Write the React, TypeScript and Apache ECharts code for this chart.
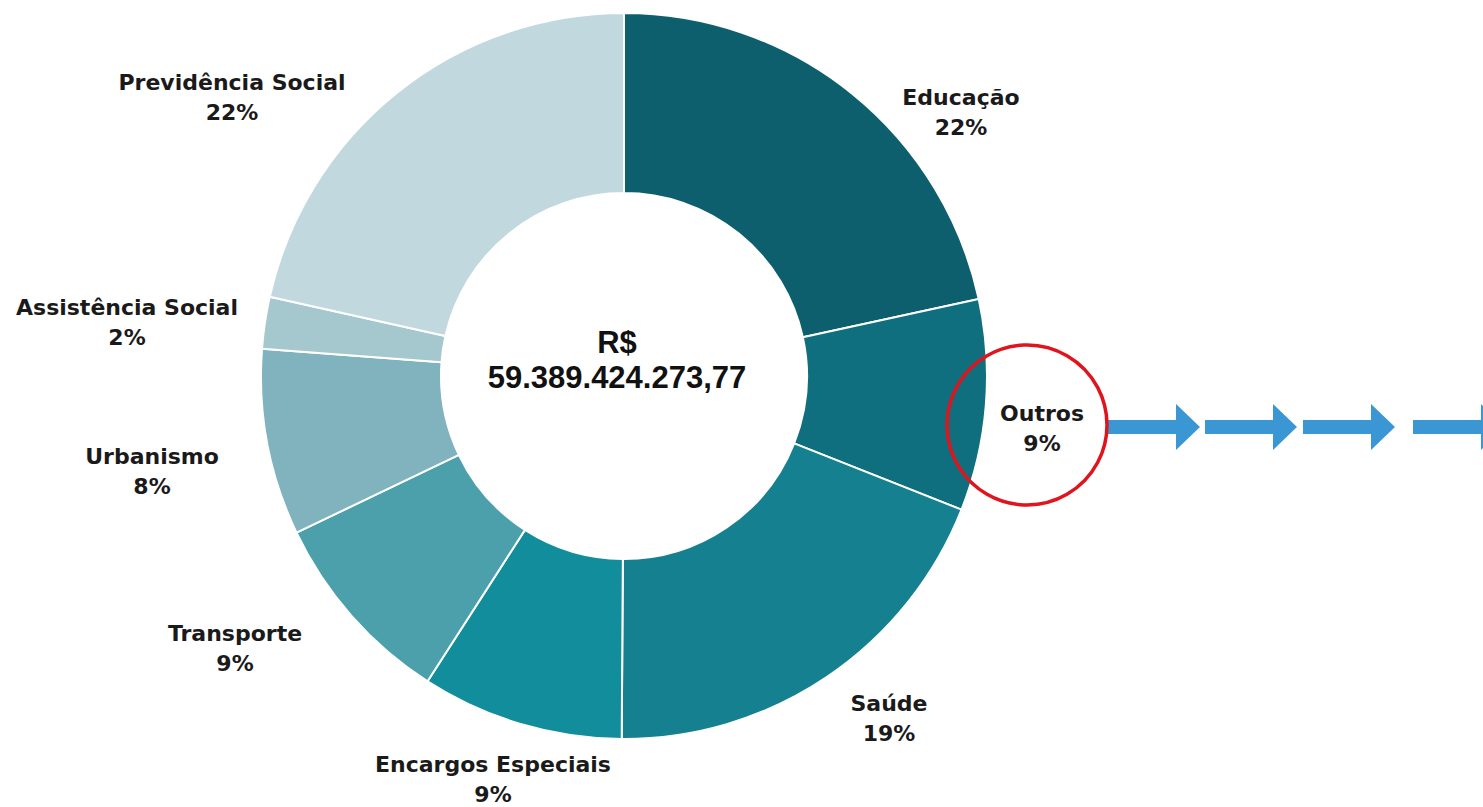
import React, { useEffect, useRef } from "react";
import * as echarts from "echarts";

const categories = [
  "Educação",
  "Outros",
  "Saúde",
  "Encargos Especiais",
  "Transporte",
  "Urbanismo",
  "Assistência Social",
  "Previdência Social",
];
// share of total spending (%)
const shares = [21.6, 9.4, 19.1, 9.0, 8.8, 8.3, 2.3, 21.5];
const sliceColors = [
  "#0D5F6E",
  "#0F6F7F",
  "#15808F",
  "#118D9C",
  "#4BA0AC",
  "#80B3BD",
  "#A5C8CF",
  "#C1D9DE",
];
const totalLines = ["R$", "59.389.424.273,77"];

// layout constants (not data)
const CENTER: [number, number] = [624, 376];
const R_IN = 183;
const R_OUT = 363;
const labelOffsets: [number, number][] = [
  [337, -264],
  [418, 52],
  [265, 342],
  [-131, 403],
  [-389, 272],
  [-472, 95],
  [-497, -54],
  [-392, -279],
];
const arrowStarts = [1108, 1205, 1303, 1413];

export default function App() {
  const ref = useRef<HTMLDivElement>(null);
  useEffect(() => {
    if (!ref.current) return;
    const chart = echarts.init(ref.current, undefined, { renderer: "svg" });
    const arrowY = 427;
    const arrows = arrowStarts.map((x0) => ({
      type: "polygon",
      z: 50,
      shape: {
        points: [
          [x0, arrowY - 7],
          [x0 + 68, arrowY - 7],
          [x0 + 68, arrowY - 23],
          [x0 + 92, arrowY],
          [x0 + 68, arrowY + 23],
          [x0 + 68, arrowY + 7],
          [x0, arrowY + 7],
        ],
      },
      style: { fill: "#3B97D3" },
    }));
    chart.setOption({
      animation: false,
      backgroundColor: "#ffffff",
      series: [
        {
          type: "pie",
          center: CENTER,
          radius: [R_IN, R_OUT],
          startAngle: 90,
          clockwise: true,
          avoidLabelOverlap: false,
          itemStyle: { borderColor: "#ffffff", borderWidth: 2 },
          labelLine: { show: false },
          label: {
            show: true,
            position: "outside",
            fontFamily: "DejaVu Sans",
            fontWeight: "bold",
            fontSize: 22,
            lineHeight: 30,
            color: "#1a1a1a",
            formatter: (p: any) => `${p.name}\n${Math.round(p.percent)}%`,
          },
          labelLayout: (p: any) => {
            const o = labelOffsets[p.dataIndex];
            return {
              x: CENTER[0] + o[0],
              y: CENTER[1] + o[1],
              align: "center",
              verticalAlign: "middle",
            };
          },
          emphasis: { disabled: true },
          data: categories.map((name, i) => ({
            name,
            value: shares[i],
            itemStyle: { color: sliceColors[i] },
          })),
        },
      ],
      graphic: [
        {
          type: "text",
          z: 60,
          x: 617,
          y: 360,
          style: {
            text: totalLines.join("\n"),
            fontFamily: "Liberation Sans, Arial",
            fontWeight: "bold",
            fontSize: 31,
            lineHeight: 35,
            fill: "#111111",
            align: "center",
            verticalAlign: "middle",
          },
        },
        {
          type: "circle",
          z: 100,
          shape: { cx: 1027, cy: 425, r: 80 },
          style: { fill: "none", stroke: "#E0141C", lineWidth: 3.5 },
        },
        ...arrows,
      ],
    });
    return () => chart.dispose();
  }, []);
  return (
    <div
      ref={ref}
      style={{ position: "fixed", left: 0, top: 0, width: 1483, height: 807 }}
    />
  );
}
